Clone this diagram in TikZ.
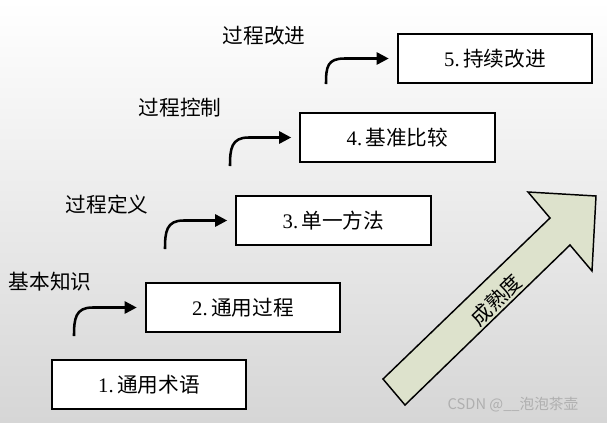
\documentclass[tikz,border=0pt]{standalone}
\usepackage{fontspec}
\setmainfont{Liberation Serif}
\newfontfamily\cjk{Noto Sans CJK SC}
\usetikzlibrary{arrows.meta}
\definecolor{bgbot}{RGB}{214,214,214}
\definecolor{arrowfill}{RGB}{221,226,204}
\definecolor{wmgray}{RGB}{175,175,175}
\tikzset{
  stepbox/.style={draw=black, line width=1.4pt, fill=white, minimum width=146pt, minimum height=36.75pt, inner sep=0pt, font=\fontsize{15.5}{18}\selectfont},
  steplabel/.style={inner sep=0pt, font=\fontsize{15.5}{18}\cjk},
  uparrow/.style={line width=1.9pt, -{Triangle[length=9pt,width=9pt]}},
  bigarrow/.style={draw=black, line width=1.1pt, fill=arrowfill, line join=miter},
}
\newcommand{\bxtext}[2]{#1\,{\cjk #2}}
\begin{document}
\begin{tikzpicture}[x=0.75pt,y=-0.75pt]
\shade[top color=white, bottom color=bgbot] (0,0) rectangle (607,422);
\useasboundingbox (0,0) rectangle (607,422);
% boxes
\node[stepbox] (b1) at (149,384.5) {\bxtext{1.}{通用术语}};
\node[stepbox] (b2) at (243,307.5) {\bxtext{2.}{通用过程}};
\node[stepbox] (b3) at (333.5,220.5) {\bxtext{3.}{单一方法}};
\node[stepbox] (b4) at (397.5,137.5) {\bxtext{4.}{基准比较}};
\node[stepbox] (b5) at (495,58.5) {\bxtext{5.}{持续改进}};
% labels
\node[steplabel] (l1) at (50,282) {基本知识};
\node[steplabel] (l2) at (107,205) {过程定义};
\node[steplabel] (l3) at (180,108) {过程控制};
\node[steplabel] (l4) at (264,36) {过程改进};
% arrow starts
\coordinate (s1) at (74,336);
\coordinate (s2) at (165,249);
\coordinate (s3) at (230,166);
\coordinate (s4) at (326,84);
\coordinate (t1) at ([xshift=-6pt]b2.west);
\coordinate (t2) at ([xshift=-6pt]b3.west);
\coordinate (t3) at ([xshift=-6pt]b4.west);
\coordinate (t4) at ([xshift=-6pt]b5.west);
\foreach \i in {1,...,4}{
  \draw[uparrow] (s\i) .. controls ([yshift=13pt]s\i) and ([xshift=1pt]s\i |- t\i) .. ([xshift=14pt]s\i |- t\i) -- (t\i);
}
% big arrow
\draw[bigarrow] (383,379) -- (550,218) -- (528,192) -- (596,196) -- (592,271) -- (570,245) -- (405,405) -- cycle;
\node[rotate=44, inner sep=0pt, font=\fontsize{15.5}{18}\cjk] (mat) at (496,300) {成熟度};
% watermark
\node[inner sep=0pt, text=wmgray, font=\fontsize{11}{13}\cjk] (wm) at (513,405) {CSDN @\_\_泡泡茶壶};
\end{tikzpicture}
\end{document}
